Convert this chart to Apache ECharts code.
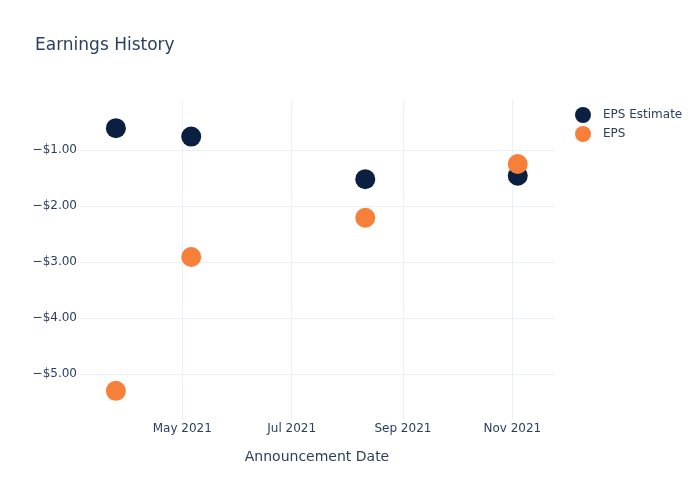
<!DOCTYPE html>
<html><head><meta charset="utf-8">
<script src="https://cdn.jsdelivr.net/npm/echarts@6/dist/echarts.min.js"></script>
<style>html,body{margin:0;padding:0;background:#fff}#c{width:700px;height:500px}</style>
</head><body><div id="c"></div>
<script>
const dates = ['2021-03-25', '2021-05-06', '2021-08-11', '2021-11-04'];
const epsEstimate = [-0.61, -0.76, -1.52, -1.46];
const eps = [-5.30, -2.91, -2.21, -1.25];
const xTickDates = ['2021-05-01', '2021-07-01', '2021-09-01', '2021-11-01'];
const xTickLabels = ['May 2021', 'Jul 2021', 'Sep 2021', 'Nov 2021'];
const yTicks = [-5, -4, -3, -2, -1];

const ts = d => Date.parse(d + 'T00:00:00Z');
const xTicks = xTickDates.map(ts);
const labelMap = {};
xTicks.forEach((t, i) => labelMap[t] = xTickLabels[i]);
const fmtMoney = v => (v < 0 ? '\u2212' : '') + '$' + Math.abs(v).toFixed(2);
const textColor = '#2a3f5f';
const gridColor = '#ebf0f8';
const font = '"DejaVu Sans", "Open Sans", sans-serif';

const chart = echarts.init(document.getElementById('c'), null, {renderer: 'canvas'});
chart.setOption({
  animation: false,
  backgroundColor: '#fff',
  textStyle: {fontFamily: font},
  title: {
    text: 'Earnings History', left: 35, top: 37, padding: 0,
    textStyle: {fontSize: 17, fontWeight: 'normal', color: textColor, fontFamily: font}
  },
  legend: {
    orient: 'vertical', left: 575, top: 107, padding: 0, itemGap: 3,
    itemWidth: 16, itemHeight: 16, icon: 'circle',
    textStyle: {fontSize: 12, color: textColor, fontFamily: font, padding: [0, 0, 0, 7]},
    data: ['EPS Estimate', 'EPS']
  },
  grid: {left: 80, right: 146, top: 100, bottom: 80, containLabel: false},
  xAxis: {
    type: 'value',
    min: ts('2021-03-05'),
    max: ts('2021-11-24') + 5 * 3600e3,
    name: 'Announcement Date', nameLocation: 'middle', nameGap: 30,
    nameTextStyle: {fontSize: 14, color: textColor, fontFamily: font},
    axisLine: {show: false},
    axisTick: {show: false, customValues: xTicks},
    axisLabel: {customValues: xTicks, color: textColor, fontSize: 12, margin: 3, fontFamily: font,
      formatter: v => labelMap[v] || ''},
    splitLine: {show: true, lineStyle: {color: gridColor, width: 1}}
  },
  yAxis: {
    type: 'value',
    min: -5.82, max: -0.107,
    axisLine: {show: false},
    axisTick: {show: false, customValues: yTicks},
    axisLabel: {customValues: yTicks, color: textColor, fontSize: 12, margin: 3, fontFamily: font, formatter: fmtMoney},
    splitLine: {show: true, lineStyle: {color: gridColor, width: 1}}
  },
  series: [
    {name: 'EPS Estimate', type: 'scatter', symbolSize: 20,
     itemStyle: {color: '#0b1f40', opacity: 1},
     data: dates.map((d, i) => [ts(d), epsEstimate[i]])},
    {name: 'EPS', type: 'scatter', symbolSize: 20,
     itemStyle: {color: '#f6803a', opacity: 1},
     data: dates.map((d, i) => [ts(d), eps[i]])}
  ]
});
</script></body></html>
